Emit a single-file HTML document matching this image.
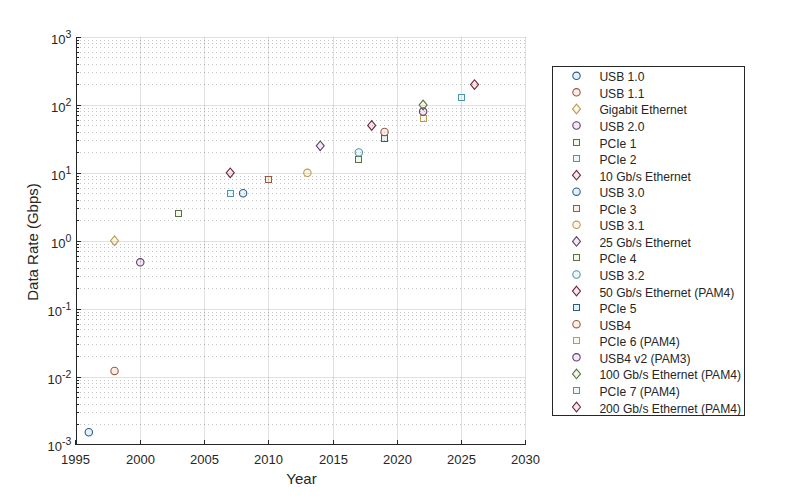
<!DOCTYPE html>
<html><head><meta charset="utf-8"><style>
html,body{margin:0;padding:0;background:#fff;width:800px;height:500px;overflow:hidden}
svg{display:block}
text{font-family:"Liberation Sans",sans-serif;fill:#262626}
</style></head><body>
<svg width="800" height="500" viewBox="0 0 800 500">
<rect width="800" height="500" fill="#fff"/>
<line x1="76" y1="377.5" x2="526" y2="377.5" stroke="rgba(38,38,38,0.145)" stroke-width="1"/>
<line x1="76" y1="309.5" x2="526" y2="309.5" stroke="rgba(38,38,38,0.145)" stroke-width="1"/>
<line x1="76" y1="241.5" x2="526" y2="241.5" stroke="rgba(38,38,38,0.145)" stroke-width="1"/>
<line x1="76" y1="173.5" x2="526" y2="173.5" stroke="rgba(38,38,38,0.145)" stroke-width="1"/>
<line x1="76" y1="105.5" x2="526" y2="105.5" stroke="rgba(38,38,38,0.145)" stroke-width="1"/>
<line x1="76" y1="37.5" x2="526" y2="37.5" stroke="rgba(38,38,38,0.145)" stroke-width="1"/>
<line x1="140.5" y1="37" x2="140.5" y2="444" stroke="rgba(38,38,38,0.145)" stroke-width="1"/>
<line x1="204.5" y1="37" x2="204.5" y2="444" stroke="rgba(38,38,38,0.145)" stroke-width="1"/>
<line x1="268.5" y1="37" x2="268.5" y2="444" stroke="rgba(38,38,38,0.145)" stroke-width="1"/>
<line x1="333.5" y1="37" x2="333.5" y2="444" stroke="rgba(38,38,38,0.145)" stroke-width="1"/>
<line x1="397.5" y1="37" x2="397.5" y2="444" stroke="rgba(38,38,38,0.145)" stroke-width="1"/>
<line x1="461.5" y1="37" x2="461.5" y2="444" stroke="rgba(38,38,38,0.145)" stroke-width="1"/>
<line x1="525.5" y1="37" x2="525.5" y2="444" stroke="rgba(38,38,38,0.145)" stroke-width="1"/>
<line x1="80" y1="424.5" x2="525" y2="424.5" stroke="rgba(38,38,38,0.27)" stroke-width="1" stroke-dasharray="1 3"/>
<line x1="80" y1="412.5" x2="525" y2="412.5" stroke="rgba(38,38,38,0.27)" stroke-width="1" stroke-dasharray="1 3"/>
<line x1="80" y1="404.5" x2="525" y2="404.5" stroke="rgba(38,38,38,0.27)" stroke-width="1" stroke-dasharray="1 3"/>
<line x1="80" y1="397.5" x2="525" y2="397.5" stroke="rgba(38,38,38,0.27)" stroke-width="1" stroke-dasharray="1 3"/>
<line x1="80" y1="392.5" x2="525" y2="392.5" stroke="rgba(38,38,38,0.27)" stroke-width="1" stroke-dasharray="1 3"/>
<line x1="80" y1="387.5" x2="525" y2="387.5" stroke="rgba(38,38,38,0.27)" stroke-width="1" stroke-dasharray="1 3"/>
<line x1="80" y1="383.5" x2="525" y2="383.5" stroke="rgba(38,38,38,0.27)" stroke-width="1" stroke-dasharray="1 3"/>
<line x1="80" y1="380.5" x2="525" y2="380.5" stroke="rgba(38,38,38,0.27)" stroke-width="1" stroke-dasharray="1 3"/>
<line x1="80" y1="356.5" x2="525" y2="356.5" stroke="rgba(38,38,38,0.27)" stroke-width="1" stroke-dasharray="1 3"/>
<line x1="80" y1="344.5" x2="525" y2="344.5" stroke="rgba(38,38,38,0.27)" stroke-width="1" stroke-dasharray="1 3"/>
<line x1="80" y1="336.5" x2="525" y2="336.5" stroke="rgba(38,38,38,0.27)" stroke-width="1" stroke-dasharray="1 3"/>
<line x1="80" y1="329.5" x2="525" y2="329.5" stroke="rgba(38,38,38,0.27)" stroke-width="1" stroke-dasharray="1 3"/>
<line x1="80" y1="324.5" x2="525" y2="324.5" stroke="rgba(38,38,38,0.27)" stroke-width="1" stroke-dasharray="1 3"/>
<line x1="80" y1="319.5" x2="525" y2="319.5" stroke="rgba(38,38,38,0.27)" stroke-width="1" stroke-dasharray="1 3"/>
<line x1="80" y1="315.5" x2="525" y2="315.5" stroke="rgba(38,38,38,0.27)" stroke-width="1" stroke-dasharray="1 3"/>
<line x1="80" y1="312.5" x2="525" y2="312.5" stroke="rgba(38,38,38,0.27)" stroke-width="1" stroke-dasharray="1 3"/>
<line x1="80" y1="288.5" x2="525" y2="288.5" stroke="rgba(38,38,38,0.27)" stroke-width="1" stroke-dasharray="1 3"/>
<line x1="80" y1="276.5" x2="525" y2="276.5" stroke="rgba(38,38,38,0.27)" stroke-width="1" stroke-dasharray="1 3"/>
<line x1="80" y1="268.5" x2="525" y2="268.5" stroke="rgba(38,38,38,0.27)" stroke-width="1" stroke-dasharray="1 3"/>
<line x1="80" y1="261.5" x2="525" y2="261.5" stroke="rgba(38,38,38,0.27)" stroke-width="1" stroke-dasharray="1 3"/>
<line x1="80" y1="256.5" x2="525" y2="256.5" stroke="rgba(38,38,38,0.27)" stroke-width="1" stroke-dasharray="1 3"/>
<line x1="80" y1="251.5" x2="525" y2="251.5" stroke="rgba(38,38,38,0.27)" stroke-width="1" stroke-dasharray="1 3"/>
<line x1="80" y1="247.5" x2="525" y2="247.5" stroke="rgba(38,38,38,0.27)" stroke-width="1" stroke-dasharray="1 3"/>
<line x1="80" y1="244.5" x2="525" y2="244.5" stroke="rgba(38,38,38,0.27)" stroke-width="1" stroke-dasharray="1 3"/>
<line x1="80" y1="220.5" x2="525" y2="220.5" stroke="rgba(38,38,38,0.27)" stroke-width="1" stroke-dasharray="1 3"/>
<line x1="80" y1="208.5" x2="525" y2="208.5" stroke="rgba(38,38,38,0.27)" stroke-width="1" stroke-dasharray="1 3"/>
<line x1="80" y1="200.5" x2="525" y2="200.5" stroke="rgba(38,38,38,0.27)" stroke-width="1" stroke-dasharray="1 3"/>
<line x1="80" y1="193.5" x2="525" y2="193.5" stroke="rgba(38,38,38,0.27)" stroke-width="1" stroke-dasharray="1 3"/>
<line x1="80" y1="188.5" x2="525" y2="188.5" stroke="rgba(38,38,38,0.27)" stroke-width="1" stroke-dasharray="1 3"/>
<line x1="80" y1="183.5" x2="525" y2="183.5" stroke="rgba(38,38,38,0.27)" stroke-width="1" stroke-dasharray="1 3"/>
<line x1="80" y1="179.5" x2="525" y2="179.5" stroke="rgba(38,38,38,0.27)" stroke-width="1" stroke-dasharray="1 3"/>
<line x1="80" y1="176.5" x2="525" y2="176.5" stroke="rgba(38,38,38,0.27)" stroke-width="1" stroke-dasharray="1 3"/>
<line x1="80" y1="152.5" x2="525" y2="152.5" stroke="rgba(38,38,38,0.27)" stroke-width="1" stroke-dasharray="1 3"/>
<line x1="80" y1="140.5" x2="525" y2="140.5" stroke="rgba(38,38,38,0.27)" stroke-width="1" stroke-dasharray="1 3"/>
<line x1="80" y1="132.5" x2="525" y2="132.5" stroke="rgba(38,38,38,0.27)" stroke-width="1" stroke-dasharray="1 3"/>
<line x1="80" y1="125.5" x2="525" y2="125.5" stroke="rgba(38,38,38,0.27)" stroke-width="1" stroke-dasharray="1 3"/>
<line x1="80" y1="120.5" x2="525" y2="120.5" stroke="rgba(38,38,38,0.27)" stroke-width="1" stroke-dasharray="1 3"/>
<line x1="80" y1="115.5" x2="525" y2="115.5" stroke="rgba(38,38,38,0.27)" stroke-width="1" stroke-dasharray="1 3"/>
<line x1="80" y1="111.5" x2="525" y2="111.5" stroke="rgba(38,38,38,0.27)" stroke-width="1" stroke-dasharray="1 3"/>
<line x1="80" y1="108.5" x2="525" y2="108.5" stroke="rgba(38,38,38,0.27)" stroke-width="1" stroke-dasharray="1 3"/>
<line x1="80" y1="84.5" x2="525" y2="84.5" stroke="rgba(38,38,38,0.27)" stroke-width="1" stroke-dasharray="1 3"/>
<line x1="80" y1="72.5" x2="525" y2="72.5" stroke="rgba(38,38,38,0.27)" stroke-width="1" stroke-dasharray="1 3"/>
<line x1="80" y1="64.5" x2="525" y2="64.5" stroke="rgba(38,38,38,0.27)" stroke-width="1" stroke-dasharray="1 3"/>
<line x1="80" y1="57.5" x2="525" y2="57.5" stroke="rgba(38,38,38,0.27)" stroke-width="1" stroke-dasharray="1 3"/>
<line x1="80" y1="52.5" x2="525" y2="52.5" stroke="rgba(38,38,38,0.27)" stroke-width="1" stroke-dasharray="1 3"/>
<line x1="80" y1="47.5" x2="525" y2="47.5" stroke="rgba(38,38,38,0.27)" stroke-width="1" stroke-dasharray="1 3"/>
<line x1="80" y1="43.5" x2="525" y2="43.5" stroke="rgba(38,38,38,0.27)" stroke-width="1" stroke-dasharray="1 3"/>
<line x1="80" y1="40.5" x2="525" y2="40.5" stroke="rgba(38,38,38,0.27)" stroke-width="1" stroke-dasharray="1 3"/>
<path d="M76.5 37V444.5H526" fill="none" stroke="#262626" stroke-width="1"/>
<line x1="76" y1="444.5" x2="81" y2="444.5" stroke="#262626" stroke-width="1"/>
<line x1="76" y1="424.5" x2="79" y2="424.5" stroke="#262626" stroke-width="1"/>
<line x1="76" y1="412.5" x2="79" y2="412.5" stroke="#262626" stroke-width="1"/>
<line x1="76" y1="404.5" x2="79" y2="404.5" stroke="#262626" stroke-width="1"/>
<line x1="76" y1="397.5" x2="79" y2="397.5" stroke="#262626" stroke-width="1"/>
<line x1="76" y1="392.5" x2="79" y2="392.5" stroke="#262626" stroke-width="1"/>
<line x1="76" y1="387.5" x2="79" y2="387.5" stroke="#262626" stroke-width="1"/>
<line x1="76" y1="383.5" x2="79" y2="383.5" stroke="#262626" stroke-width="1"/>
<line x1="76" y1="380.5" x2="79" y2="380.5" stroke="#262626" stroke-width="1"/>
<line x1="76" y1="377.5" x2="81" y2="377.5" stroke="#262626" stroke-width="1"/>
<line x1="76" y1="356.5" x2="79" y2="356.5" stroke="#262626" stroke-width="1"/>
<line x1="76" y1="344.5" x2="79" y2="344.5" stroke="#262626" stroke-width="1"/>
<line x1="76" y1="336.5" x2="79" y2="336.5" stroke="#262626" stroke-width="1"/>
<line x1="76" y1="329.5" x2="79" y2="329.5" stroke="#262626" stroke-width="1"/>
<line x1="76" y1="324.5" x2="79" y2="324.5" stroke="#262626" stroke-width="1"/>
<line x1="76" y1="319.5" x2="79" y2="319.5" stroke="#262626" stroke-width="1"/>
<line x1="76" y1="315.5" x2="79" y2="315.5" stroke="#262626" stroke-width="1"/>
<line x1="76" y1="312.5" x2="79" y2="312.5" stroke="#262626" stroke-width="1"/>
<line x1="76" y1="309.5" x2="81" y2="309.5" stroke="#262626" stroke-width="1"/>
<line x1="76" y1="288.5" x2="79" y2="288.5" stroke="#262626" stroke-width="1"/>
<line x1="76" y1="276.5" x2="79" y2="276.5" stroke="#262626" stroke-width="1"/>
<line x1="76" y1="268.5" x2="79" y2="268.5" stroke="#262626" stroke-width="1"/>
<line x1="76" y1="261.5" x2="79" y2="261.5" stroke="#262626" stroke-width="1"/>
<line x1="76" y1="256.5" x2="79" y2="256.5" stroke="#262626" stroke-width="1"/>
<line x1="76" y1="251.5" x2="79" y2="251.5" stroke="#262626" stroke-width="1"/>
<line x1="76" y1="247.5" x2="79" y2="247.5" stroke="#262626" stroke-width="1"/>
<line x1="76" y1="244.5" x2="79" y2="244.5" stroke="#262626" stroke-width="1"/>
<line x1="76" y1="241.5" x2="81" y2="241.5" stroke="#262626" stroke-width="1"/>
<line x1="76" y1="220.5" x2="79" y2="220.5" stroke="#262626" stroke-width="1"/>
<line x1="76" y1="208.5" x2="79" y2="208.5" stroke="#262626" stroke-width="1"/>
<line x1="76" y1="200.5" x2="79" y2="200.5" stroke="#262626" stroke-width="1"/>
<line x1="76" y1="193.5" x2="79" y2="193.5" stroke="#262626" stroke-width="1"/>
<line x1="76" y1="188.5" x2="79" y2="188.5" stroke="#262626" stroke-width="1"/>
<line x1="76" y1="183.5" x2="79" y2="183.5" stroke="#262626" stroke-width="1"/>
<line x1="76" y1="179.5" x2="79" y2="179.5" stroke="#262626" stroke-width="1"/>
<line x1="76" y1="176.5" x2="79" y2="176.5" stroke="#262626" stroke-width="1"/>
<line x1="76" y1="173.5" x2="81" y2="173.5" stroke="#262626" stroke-width="1"/>
<line x1="76" y1="152.5" x2="79" y2="152.5" stroke="#262626" stroke-width="1"/>
<line x1="76" y1="140.5" x2="79" y2="140.5" stroke="#262626" stroke-width="1"/>
<line x1="76" y1="132.5" x2="79" y2="132.5" stroke="#262626" stroke-width="1"/>
<line x1="76" y1="125.5" x2="79" y2="125.5" stroke="#262626" stroke-width="1"/>
<line x1="76" y1="120.5" x2="79" y2="120.5" stroke="#262626" stroke-width="1"/>
<line x1="76" y1="115.5" x2="79" y2="115.5" stroke="#262626" stroke-width="1"/>
<line x1="76" y1="111.5" x2="79" y2="111.5" stroke="#262626" stroke-width="1"/>
<line x1="76" y1="108.5" x2="79" y2="108.5" stroke="#262626" stroke-width="1"/>
<line x1="76" y1="105.5" x2="81" y2="105.5" stroke="#262626" stroke-width="1"/>
<line x1="76" y1="84.5" x2="79" y2="84.5" stroke="#262626" stroke-width="1"/>
<line x1="76" y1="72.5" x2="79" y2="72.5" stroke="#262626" stroke-width="1"/>
<line x1="76" y1="64.5" x2="79" y2="64.5" stroke="#262626" stroke-width="1"/>
<line x1="76" y1="57.5" x2="79" y2="57.5" stroke="#262626" stroke-width="1"/>
<line x1="76" y1="52.5" x2="79" y2="52.5" stroke="#262626" stroke-width="1"/>
<line x1="76" y1="47.5" x2="79" y2="47.5" stroke="#262626" stroke-width="1"/>
<line x1="76" y1="43.5" x2="79" y2="43.5" stroke="#262626" stroke-width="1"/>
<line x1="76" y1="40.5" x2="79" y2="40.5" stroke="#262626" stroke-width="1"/>
<line x1="76" y1="37.5" x2="81" y2="37.5" stroke="#262626" stroke-width="1"/>
<line x1="75.5" y1="445" x2="75.5" y2="440" stroke="#262626" stroke-width="1"/>
<line x1="140.5" y1="445" x2="140.5" y2="440" stroke="#262626" stroke-width="1"/>
<line x1="204.5" y1="445" x2="204.5" y2="440" stroke="#262626" stroke-width="1"/>
<line x1="268.5" y1="445" x2="268.5" y2="440" stroke="#262626" stroke-width="1"/>
<line x1="333.5" y1="445" x2="333.5" y2="440" stroke="#262626" stroke-width="1"/>
<line x1="397.5" y1="445" x2="397.5" y2="440" stroke="#262626" stroke-width="1"/>
<line x1="461.5" y1="445" x2="461.5" y2="440" stroke="#262626" stroke-width="1"/>
<line x1="525.5" y1="445" x2="525.5" y2="440" stroke="#262626" stroke-width="1"/>
<circle cx="88.82" cy="432.23" r="3.7" fill="#0072BD" fill-opacity="0.1" stroke="#2a5f81" stroke-width="1.1"/>
<circle cx="114.53" cy="370.97" r="3.7" fill="#D95319" fill-opacity="0.1" stroke="#9d583e" stroke-width="1.1"/>
<path d="M114.53 235.82L118.53 240.67L114.53 245.52L110.53 240.67Z" fill="#EDB120" fill-opacity="0.1" stroke="#b69b53" stroke-width="1.1"/>
<circle cx="140.25" cy="262.29" r="3.7" fill="#7E2F8E" fill-opacity="0.1" stroke="#603c6d" stroke-width="1.1"/>
<rect x="175.50" y="210.50" width="6.00" height="6.00" fill="#77AC30" fill-opacity="0.1" stroke="#59703e" stroke-width="1"/>
<rect x="227.50" y="190.50" width="6.00" height="6.00" fill="#4DBEEE" fill-opacity="0.1" stroke="#5193a9" stroke-width="1"/>
<path d="M230.24 167.99L234.24 172.84L230.24 177.69L226.24 172.84Z" fill="#A2142F" fill-opacity="0.1" stroke="#6e2638" stroke-width="1.1"/>
<circle cx="243.10" cy="193.26" r="3.7" fill="#0072BD" fill-opacity="0.1" stroke="#2a5f81" stroke-width="1.1"/>
<rect x="265.50" y="176.50" width="6.00" height="6.00" fill="#D95319" fill-opacity="0.1" stroke="#9d583e" stroke-width="1"/>
<circle cx="307.39" cy="172.84" r="3.7" fill="#EDB120" fill-opacity="0.1" stroke="#b69b53" stroke-width="1.1"/>
<path d="M320.24 140.99L324.24 145.84L320.24 150.69L316.24 145.84Z" fill="#7E2F8E" fill-opacity="0.1" stroke="#603c6d" stroke-width="1.1"/>
<rect x="355.50" y="156.50" width="6.00" height="6.00" fill="#77AC30" fill-opacity="0.1" stroke="#59703e" stroke-width="1"/>
<circle cx="358.81" cy="152.42" r="3.7" fill="#4DBEEE" fill-opacity="0.1" stroke="#5193a9" stroke-width="1.1"/>
<path d="M371.67 120.57L375.67 125.42L371.67 130.27L367.67 125.42Z" fill="#A2142F" fill-opacity="0.1" stroke="#6e2638" stroke-width="1.1"/>
<rect x="381.50" y="135.50" width="6.00" height="6.00" fill="#0072BD" fill-opacity="0.1" stroke="#2a5f81" stroke-width="1"/>
<circle cx="384.53" cy="132.00" r="3.7" fill="#D95319" fill-opacity="0.1" stroke="#9d583e" stroke-width="1.1"/>
<rect x="420.50" y="115.50" width="6.00" height="6.00" fill="#EDB120" fill-opacity="0.1" stroke="#b69b53" stroke-width="1"/>
<circle cx="423.10" cy="111.58" r="3.7" fill="#7E2F8E" fill-opacity="0.1" stroke="#603c6d" stroke-width="1.1"/>
<path d="M423.10 100.16L427.10 105.01L423.10 109.86L419.10 105.01Z" fill="#77AC30" fill-opacity="0.1" stroke="#59703e" stroke-width="1.1"/>
<rect x="458.50" y="94.50" width="6.00" height="6.00" fill="#4DBEEE" fill-opacity="0.1" stroke="#5193a9" stroke-width="1"/>
<path d="M474.53 79.74L478.53 84.59L474.53 89.44L470.53 84.59Z" fill="#A2142F" fill-opacity="0.1" stroke="#6e2638" stroke-width="1.1"/>
<text x="75.5" y="464" text-anchor="middle" font-size="13">1995</text>
<text x="140.5" y="464" text-anchor="middle" font-size="13">2000</text>
<text x="204.5" y="464" text-anchor="middle" font-size="13">2005</text>
<text x="268.5" y="464" text-anchor="middle" font-size="13">2010</text>
<text x="333.5" y="464" text-anchor="middle" font-size="13">2015</text>
<text x="397.5" y="464" text-anchor="middle" font-size="13">2020</text>
<text x="461.5" y="464" text-anchor="middle" font-size="13">2025</text>
<text x="525.5" y="464" text-anchor="middle" font-size="13">2030</text>
<text x="71.3" y="450.5" text-anchor="end" font-size="13">10<tspan dy="-5.7" font-size="10.5">-3</tspan></text>
<text x="71.3" y="383.5" text-anchor="end" font-size="13">10<tspan dy="-5.7" font-size="10.5">-2</tspan></text>
<text x="71.3" y="315.5" text-anchor="end" font-size="13">10<tspan dy="-5.7" font-size="10.5">-1</tspan></text>
<text x="71.3" y="247.5" text-anchor="end" font-size="13">10<tspan dy="-5.7" font-size="10.5">0</tspan></text>
<text x="71.3" y="179.5" text-anchor="end" font-size="13">10<tspan dy="-5.7" font-size="10.5">1</tspan></text>
<text x="71.3" y="111.5" text-anchor="end" font-size="13">10<tspan dy="-5.7" font-size="10.5">2</tspan></text>
<text x="71.3" y="43.5" text-anchor="end" font-size="13">10<tspan dy="-5.7" font-size="10.5">3</tspan></text>
<text x="301.5" y="484" text-anchor="middle" font-size="15">Year</text>
<text transform="translate(38 242) rotate(-90)" text-anchor="middle" font-size="15">Data Rate (Gbps)</text>
<rect x="552.5" y="66.5" width="192" height="349" fill="#fff" stroke="#262626" stroke-width="1"/>
<circle cx="576.50" cy="75.80" r="3.7" fill="#0072BD" fill-opacity="0.1" stroke="#2a5f81" stroke-width="1.1"/>
<text x="599.4" y="81.30" font-size="12.1">USB 1.0</text>
<circle cx="576.50" cy="92.36" r="3.7" fill="#D95319" fill-opacity="0.1" stroke="#9d583e" stroke-width="1.1"/>
<text x="599.4" y="97.86" font-size="12.1">USB 1.1</text>
<path d="M576.50 104.07L580.50 108.92L576.50 113.77L572.50 108.92Z" fill="#EDB120" fill-opacity="0.1" stroke="#b69b53" stroke-width="1.1"/>
<text x="599.4" y="114.42" font-size="12.1">Gigabit Ethernet</text>
<circle cx="576.50" cy="125.48" r="3.7" fill="#7E2F8E" fill-opacity="0.1" stroke="#603c6d" stroke-width="1.1"/>
<text x="599.4" y="130.98" font-size="12.1">USB 2.0</text>
<rect x="573.50" y="139.50" width="6.00" height="6.00" fill="#77AC30" fill-opacity="0.1" stroke="#59703e" stroke-width="1"/>
<text x="599.4" y="147.54" font-size="12.1">PCIe 1</text>
<rect x="573.50" y="155.50" width="6.00" height="6.00" fill="#4DBEEE" fill-opacity="0.1" stroke="#5193a9" stroke-width="1"/>
<text x="599.4" y="164.10" font-size="12.1">PCIe 2</text>
<path d="M576.50 170.31L580.50 175.16L576.50 180.01L572.50 175.16Z" fill="#A2142F" fill-opacity="0.1" stroke="#6e2638" stroke-width="1.1"/>
<text x="599.4" y="180.66" font-size="12.1">10 Gb/s Ethernet</text>
<circle cx="576.50" cy="191.72" r="3.7" fill="#0072BD" fill-opacity="0.1" stroke="#2a5f81" stroke-width="1.1"/>
<text x="599.4" y="197.22" font-size="12.1">USB 3.0</text>
<rect x="573.50" y="205.50" width="6.00" height="6.00" fill="#D95319" fill-opacity="0.1" stroke="#9d583e" stroke-width="1"/>
<text x="599.4" y="213.78" font-size="12.1">PCIe 3</text>
<circle cx="576.50" cy="224.84" r="3.7" fill="#EDB120" fill-opacity="0.1" stroke="#b69b53" stroke-width="1.1"/>
<text x="599.4" y="230.34" font-size="12.1">USB 3.1</text>
<path d="M576.50 236.55L580.50 241.40L576.50 246.25L572.50 241.40Z" fill="#7E2F8E" fill-opacity="0.1" stroke="#603c6d" stroke-width="1.1"/>
<text x="599.4" y="246.90" font-size="12.1">25 Gb/s Ethernet</text>
<rect x="573.50" y="254.50" width="6.00" height="6.00" fill="#77AC30" fill-opacity="0.1" stroke="#59703e" stroke-width="1"/>
<text x="599.4" y="263.46" font-size="12.1">PCIe 4</text>
<circle cx="576.50" cy="274.52" r="3.7" fill="#4DBEEE" fill-opacity="0.1" stroke="#5193a9" stroke-width="1.1"/>
<text x="599.4" y="280.02" font-size="12.1">USB 3.2</text>
<path d="M576.50 286.23L580.50 291.08L576.50 295.93L572.50 291.08Z" fill="#A2142F" fill-opacity="0.1" stroke="#6e2638" stroke-width="1.1"/>
<text x="599.4" y="296.58" font-size="12.1">50 Gb/s Ethernet (PAM4)</text>
<rect x="573.50" y="304.50" width="6.00" height="6.00" fill="#0072BD" fill-opacity="0.1" stroke="#2a5f81" stroke-width="1"/>
<text x="599.4" y="313.14" font-size="12.1">PCIe 5</text>
<circle cx="576.50" cy="324.20" r="3.7" fill="#D95319" fill-opacity="0.1" stroke="#9d583e" stroke-width="1.1"/>
<text x="599.4" y="329.70" font-size="12.1">USB4</text>
<rect x="573.50" y="337.50" width="6.00" height="6.00" fill="#EDB120" fill-opacity="0.1" stroke="#b69b53" stroke-width="1"/>
<text x="599.4" y="346.26" font-size="12.1">PCIe 6 (PAM4)</text>
<circle cx="576.50" cy="357.32" r="3.7" fill="#7E2F8E" fill-opacity="0.1" stroke="#603c6d" stroke-width="1.1"/>
<text x="599.4" y="362.82" font-size="12.1">USB4 v2 (PAM3)</text>
<path d="M576.50 369.03L580.50 373.88L576.50 378.73L572.50 373.88Z" fill="#77AC30" fill-opacity="0.1" stroke="#59703e" stroke-width="1.1"/>
<text x="599.4" y="379.38" font-size="12.1">100 Gb/s Ethernet (PAM4)</text>
<rect x="573.50" y="387.50" width="6.00" height="6.00" fill="#4DBEEE" fill-opacity="0.1" stroke="#5193a9" stroke-width="1"/>
<text x="599.4" y="395.94" font-size="12.1">PCIe 7 (PAM4)</text>
<path d="M576.50 402.15L580.50 407.00L576.50 411.85L572.50 407.00Z" fill="#A2142F" fill-opacity="0.1" stroke="#6e2638" stroke-width="1.1"/>
<text x="599.4" y="412.50" font-size="12.1">200 Gb/s Ethernet (PAM4)</text>
</svg></body></html>
